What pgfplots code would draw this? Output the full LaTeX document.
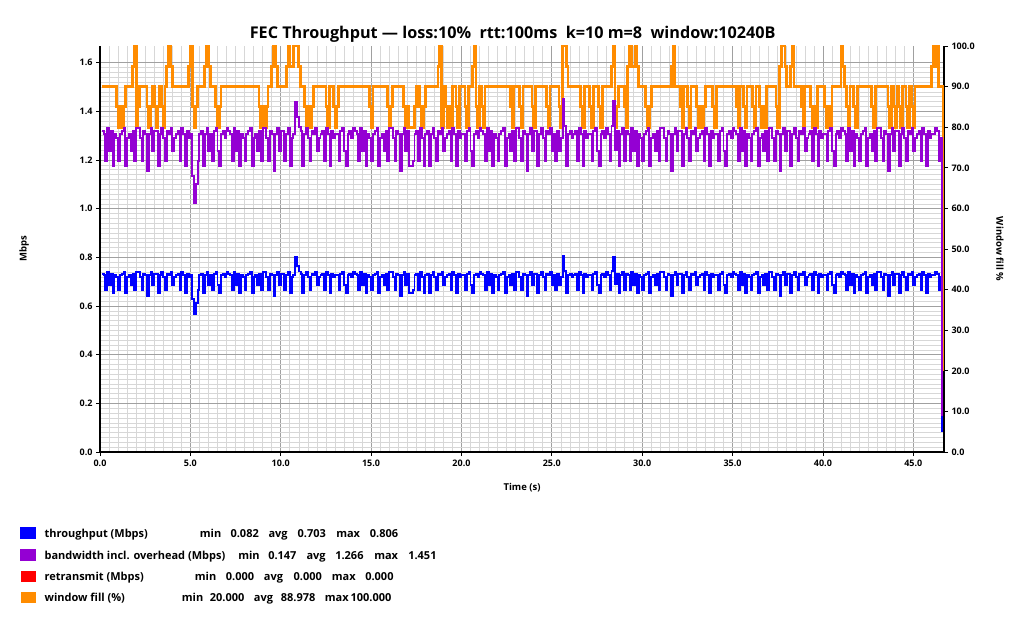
\documentclass[border=0pt]{standalone}
\usepackage{fontspec}
\setmainfont{Open Sans}
\usepackage{pgfplots}
\usepackage{pgfplotstable}
\pgfplotsset{compat=1.18}

\definecolor{tpblue}{RGB}{0,0,255}
\definecolor{bwpurple}{RGB}{148,0,211}
\definecolor{rtred}{RGB}{255,0,0}
\definecolor{wforange}{RGB}{255,140,0}
\definecolor{majgrid}{RGB}{160,160,160}
\definecolor{mingrid}{RGB}{215,215,215}

% throughput and bandwidth incl. overhead, Mbps, every 0.1 s
\pgfplotstableread{
t tp bw
0.1 0.733 1.319
0.2 0.726 1.307
0.3 0.664 1.195
0.4 0.740 1.332
0.5 0.688 1.238
0.6 0.733 1.319
0.7 0.652 1.174
0.8 0.726 1.307
0.9 0.718 1.292
1.0 0.664 1.195
1.1 0.726 1.307
1.2 0.733 1.319
1.3 0.740 1.332
1.4 0.652 1.174
1.5 0.718 1.292
1.6 0.726 1.307
1.7 0.688 1.238
1.8 0.733 1.319
1.9 0.664 1.195
2.0 0.740 1.332
2.1 0.740 1.332
2.2 0.718 1.292
2.3 0.664 1.195
2.4 0.733 1.319
2.5 0.726 1.307
2.6 0.642 1.156
2.7 0.726 1.307
2.8 0.740 1.332
2.9 0.688 1.238
3.0 0.733 1.319
3.1 0.733 1.319
3.2 0.652 1.174
3.3 0.726 1.307
3.4 0.740 1.332
3.5 0.718 1.292
3.6 0.664 1.195
3.7 0.733 1.319
3.8 0.726 1.307
3.9 0.740 1.332
4.0 0.688 1.238
4.1 0.718 1.292
4.2 0.726 1.307
4.3 0.733 1.319
4.4 0.664 1.195
4.5 0.740 1.332
4.6 0.726 1.307
4.7 0.652 1.174
4.8 0.733 1.319
4.9 0.718 1.292
5.0 0.726 1.307
5.1 0.630 1.134
5.2 0.568 1.022
5.3 0.612 1.102
5.4 0.664 1.195
5.5 0.726 1.307
5.6 0.733 1.319
5.7 0.652 1.174
5.8 0.726 1.307
5.9 0.740 1.332
6.0 0.688 1.238
6.1 0.726 1.307
6.2 0.664 1.195
6.3 0.733 1.319
6.4 0.740 1.332
6.5 0.688 1.238
6.6 0.652 1.174
6.7 0.726 1.307
6.8 0.733 1.319
6.9 0.718 1.292
7.0 0.740 1.332
7.1 0.733 1.319
7.2 0.726 1.307
7.3 0.664 1.195
7.4 0.740 1.332
7.5 0.688 1.238
7.6 0.733 1.319
7.7 0.652 1.174
7.8 0.726 1.307
7.9 0.718 1.292
8.0 0.664 1.195
8.1 0.726 1.307
8.2 0.733 1.319
8.3 0.740 1.332
8.4 0.652 1.174
8.5 0.718 1.292
8.6 0.726 1.307
8.7 0.688 1.238
8.8 0.733 1.319
8.9 0.664 1.195
9.0 0.740 1.332
9.1 0.740 1.332
9.2 0.718 1.292
9.3 0.664 1.195
9.4 0.733 1.319
9.5 0.726 1.307
9.6 0.642 1.156
9.7 0.726 1.307
9.8 0.740 1.332
9.9 0.688 1.238
10.0 0.733 1.319
10.1 0.733 1.319
10.2 0.664 1.195
10.3 0.726 1.307
10.4 0.740 1.332
10.5 0.652 1.174
10.6 0.718 1.292
10.7 0.726 1.307
10.8 0.800 1.440
10.9 0.765 1.377
11.0 0.742 1.336
11.1 0.733 1.319
11.2 0.652 1.174
11.3 0.726 1.307
11.4 0.740 1.332
11.5 0.718 1.292
11.6 0.664 1.195
11.7 0.733 1.319
11.8 0.726 1.307
11.9 0.740 1.332
12.0 0.688 1.238
12.1 0.718 1.292
12.2 0.726 1.307
12.3 0.733 1.319
12.4 0.664 1.195
12.5 0.740 1.332
12.6 0.726 1.307
12.7 0.652 1.174
12.8 0.733 1.319
12.9 0.718 1.292
13.0 0.726 1.307
13.1 0.726 1.307
13.2 0.664 1.195
13.3 0.733 1.319
13.4 0.740 1.332
13.5 0.688 1.238
13.6 0.652 1.174
13.7 0.726 1.307
13.8 0.733 1.319
13.9 0.718 1.292
14.0 0.740 1.332
14.1 0.733 1.319
14.2 0.726 1.307
14.3 0.664 1.195
14.4 0.740 1.332
14.5 0.688 1.238
14.6 0.733 1.319
14.7 0.652 1.174
14.8 0.726 1.307
14.9 0.718 1.292
15.0 0.664 1.195
15.1 0.726 1.307
15.2 0.733 1.319
15.3 0.740 1.332
15.4 0.652 1.174
15.5 0.718 1.292
15.6 0.726 1.307
15.7 0.688 1.238
15.8 0.733 1.319
15.9 0.664 1.195
16.0 0.740 1.332
16.1 0.740 1.332
16.2 0.718 1.292
16.3 0.664 1.195
16.4 0.733 1.319
16.5 0.726 1.307
16.6 0.642 1.156
16.7 0.726 1.307
16.8 0.740 1.332
16.9 0.688 1.238
17.0 0.733 1.319
17.1 0.652 1.174
17.2 0.652 1.174
17.3 0.664 1.195
17.4 0.726 1.307
17.5 0.733 1.319
17.6 0.664 1.195
17.7 0.740 1.332
17.8 0.718 1.292
17.9 0.652 1.174
18.0 0.726 1.307
18.1 0.733 1.319
18.2 0.652 1.174
18.3 0.726 1.307
18.4 0.740 1.332
18.5 0.718 1.292
18.6 0.664 1.195
18.7 0.733 1.319
18.8 0.726 1.307
18.9 0.740 1.332
19.0 0.688 1.238
19.1 0.718 1.292
19.2 0.726 1.307
19.3 0.733 1.319
19.4 0.664 1.195
19.5 0.740 1.332
19.6 0.726 1.307
19.7 0.652 1.174
19.8 0.733 1.319
19.9 0.718 1.292
20.0 0.726 1.307
20.1 0.726 1.307
20.2 0.664 1.195
20.3 0.733 1.319
20.4 0.740 1.332
20.5 0.688 1.238
20.6 0.652 1.174
20.7 0.726 1.307
20.8 0.733 1.319
20.9 0.718 1.292
21.0 0.740 1.332
21.1 0.733 1.319
21.2 0.726 1.307
21.3 0.664 1.195
21.4 0.740 1.332
21.5 0.688 1.238
21.6 0.733 1.319
21.7 0.652 1.174
21.8 0.726 1.307
21.9 0.718 1.292
22.0 0.664 1.195
22.1 0.726 1.307
22.2 0.733 1.319
22.3 0.740 1.332
22.4 0.652 1.174
22.5 0.718 1.292
22.6 0.726 1.307
22.7 0.688 1.238
22.8 0.733 1.319
22.9 0.664 1.195
23.0 0.740 1.332
23.1 0.740 1.332
23.2 0.718 1.292
23.3 0.664 1.195
23.4 0.733 1.319
23.5 0.726 1.307
23.6 0.642 1.156
23.7 0.726 1.307
23.8 0.740 1.332
23.9 0.688 1.238
24.0 0.733 1.319
24.1 0.733 1.319
24.2 0.652 1.174
24.3 0.726 1.307
24.4 0.740 1.332
24.5 0.718 1.292
24.6 0.664 1.195
24.7 0.733 1.319
24.8 0.726 1.307
24.9 0.740 1.332
25.0 0.688 1.238
25.1 0.726 1.307
25.2 0.664 1.195
25.3 0.733 1.319
25.4 0.688 1.238
25.5 0.718 1.292
25.6 0.806 1.451
25.7 0.745 1.341
25.8 0.652 1.174
25.9 0.726 1.307
26.0 0.733 1.319
26.1 0.718 1.292
26.2 0.726 1.307
26.3 0.733 1.319
26.4 0.664 1.195
26.5 0.740 1.332
26.6 0.726 1.307
26.7 0.652 1.174
26.8 0.733 1.319
26.9 0.718 1.292
27.0 0.726 1.307
27.1 0.726 1.307
27.2 0.664 1.195
27.3 0.733 1.319
27.4 0.740 1.332
27.5 0.688 1.238
27.6 0.652 1.174
27.7 0.726 1.307
27.8 0.733 1.319
27.9 0.718 1.292
28.0 0.740 1.332
28.1 0.726 1.307
28.2 0.664 1.195
28.3 0.745 1.341
28.4 0.802 1.444
28.5 0.690 1.242
28.6 0.733 1.319
28.7 0.652 1.174
28.8 0.726 1.307
28.9 0.740 1.332
29.0 0.664 1.195
29.1 0.733 1.319
29.2 0.726 1.307
29.3 0.664 1.195
29.4 0.740 1.332
29.5 0.688 1.238
29.6 0.733 1.319
29.7 0.652 1.174
29.8 0.726 1.307
29.9 0.718 1.292
30.0 0.664 1.195
30.1 0.726 1.307
30.2 0.733 1.319
30.3 0.740 1.332
30.4 0.652 1.174
30.5 0.718 1.292
30.6 0.726 1.307
30.7 0.688 1.238
30.8 0.733 1.319
30.9 0.664 1.195
31.0 0.740 1.332
31.1 0.740 1.332
31.2 0.718 1.292
31.3 0.664 1.195
31.4 0.733 1.319
31.5 0.726 1.307
31.6 0.642 1.156
31.7 0.726 1.307
31.8 0.740 1.332
31.9 0.688 1.238
32.0 0.733 1.319
32.1 0.733 1.319
32.2 0.652 1.174
32.3 0.726 1.307
32.4 0.740 1.332
32.5 0.718 1.292
32.6 0.664 1.195
32.7 0.733 1.319
32.8 0.726 1.307
32.9 0.740 1.332
33.0 0.688 1.238
33.1 0.718 1.292
33.2 0.726 1.307
33.3 0.733 1.319
33.4 0.664 1.195
33.5 0.740 1.332
33.6 0.726 1.307
33.7 0.652 1.174
33.8 0.733 1.319
33.9 0.718 1.292
34.0 0.726 1.307
34.1 0.726 1.307
34.2 0.664 1.195
34.3 0.733 1.319
34.4 0.740 1.332
34.5 0.688 1.238
34.6 0.652 1.174
34.7 0.726 1.307
34.8 0.733 1.319
34.9 0.718 1.292
35.0 0.740 1.332
35.1 0.733 1.319
35.2 0.726 1.307
35.3 0.664 1.195
35.4 0.740 1.332
35.5 0.688 1.238
35.6 0.733 1.319
35.7 0.652 1.174
35.8 0.726 1.307
35.9 0.718 1.292
36.0 0.664 1.195
36.1 0.726 1.307
36.2 0.733 1.319
36.3 0.740 1.332
36.4 0.652 1.174
36.5 0.718 1.292
36.6 0.726 1.307
36.7 0.688 1.238
36.8 0.733 1.319
36.9 0.664 1.195
37.0 0.740 1.332
37.1 0.740 1.332
37.2 0.718 1.292
37.3 0.664 1.195
37.4 0.733 1.319
37.5 0.726 1.307
37.6 0.642 1.156
37.7 0.726 1.307
37.8 0.740 1.332
37.9 0.688 1.238
38.0 0.733 1.319
38.1 0.733 1.319
38.2 0.652 1.174
38.3 0.726 1.307
38.4 0.740 1.332
38.5 0.718 1.292
38.6 0.664 1.195
38.7 0.733 1.319
38.8 0.726 1.307
38.9 0.740 1.332
39.0 0.688 1.238
39.1 0.718 1.292
39.2 0.726 1.307
39.3 0.733 1.319
39.4 0.664 1.195
39.5 0.740 1.332
39.6 0.726 1.307
39.7 0.652 1.174
39.8 0.733 1.319
39.9 0.718 1.292
40.0 0.726 1.307
40.1 0.726 1.307
40.2 0.664 1.195
40.3 0.733 1.319
40.4 0.740 1.332
40.5 0.688 1.238
40.6 0.652 1.174
40.7 0.726 1.307
40.8 0.733 1.319
40.9 0.718 1.292
41.0 0.740 1.332
41.1 0.733 1.319
41.2 0.726 1.307
41.3 0.664 1.195
41.4 0.740 1.332
41.5 0.688 1.238
41.6 0.733 1.319
41.7 0.652 1.174
41.8 0.726 1.307
41.9 0.718 1.292
42.0 0.664 1.195
42.1 0.726 1.307
42.2 0.733 1.319
42.3 0.740 1.332
42.4 0.652 1.174
42.5 0.718 1.292
42.6 0.726 1.307
42.7 0.688 1.238
42.8 0.733 1.319
42.9 0.664 1.195
43.0 0.740 1.332
43.1 0.740 1.332
43.2 0.718 1.292
43.3 0.664 1.195
43.4 0.733 1.319
43.5 0.726 1.307
43.6 0.642 1.156
43.7 0.726 1.307
43.8 0.740 1.332
43.9 0.688 1.238
44.0 0.733 1.319
44.1 0.733 1.319
44.2 0.652 1.174
44.3 0.726 1.307
44.4 0.740 1.332
44.5 0.718 1.292
44.6 0.664 1.195
44.7 0.733 1.319
44.8 0.726 1.307
44.9 0.740 1.332
45.0 0.688 1.238
45.1 0.718 1.292
45.2 0.726 1.307
45.3 0.733 1.319
45.4 0.664 1.195
45.5 0.740 1.332
45.6 0.726 1.307
45.7 0.652 1.174
45.8 0.733 1.319
45.9 0.718 1.292
46.0 0.726 1.307
46.1 0.726 1.307
46.2 0.740 1.332
46.3 0.733 1.319
46.4 0.664 1.195
46.5 0.718 1.292
46.6 0.082 0.147
}\rates

% window fill %, change points only (held until the next point)
\pgfplotstableread{
t wf
0.1 90
0.9 85
1.0 80
1.1 85
1.2 80
1.3 85
1.4 90
1.8 95
1.9 100
2.0 80
2.1 85
2.2 90
2.6 85
2.7 80
2.8 85
2.9 90
3.0 85
3.1 80
3.2 85
3.3 90
3.4 85
3.5 80
3.6 90
3.7 95
3.8 100
3.9 95
4.0 90
4.9 95
5.0 100
5.1 85
5.2 80
5.3 85
5.4 90
5.8 95
5.9 100
6.0 95
6.1 90
6.4 85
6.5 80
6.6 85
6.7 90
8.8 85
8.9 80
9.0 85
9.1 80
9.2 85
9.3 90
9.5 95
9.6 100
9.7 95
9.8 90
10.3 95
10.4 100
10.5 95
10.7 100
11.0 95
11.1 90
11.3 85
11.4 80
11.5 85
11.6 80
11.7 85
11.8 90
12.5 85
12.6 80
12.7 90
12.9 85
13.0 80
13.1 85
13.2 90
14.9 85
15.0 80
15.1 90
15.9 85
16.0 80
16.1 85
16.2 90
16.8 85
16.9 80
17.0 85
17.1 80
17.4 85
17.5 90
17.7 85
17.8 80
17.9 85
18.0 90
18.7 95
18.8 100
18.9 80
19.0 90
19.1 85
19.2 80
19.3 85
19.4 80
19.5 90
19.7 85
19.8 80
19.9 90
20.2 85
20.3 80
20.4 90
20.6 95
20.7 100
20.8 85
20.9 80
21.0 90
21.1 85
21.2 80
21.3 90
22.7 85
22.8 80
22.9 90
23.2 85
23.3 80
23.4 90
23.9 85
24.0 80
24.1 90
24.7 85
24.8 80
24.9 90
25.4 85
25.5 80
25.6 100
25.8 95
25.9 90
26.6 85
26.7 80
26.8 90
27.1 85
27.2 80
27.3 90
27.6 85
27.7 80
27.8 90
28.3 95
28.4 100
28.5 80
28.6 85
28.7 90
29.0 85
29.1 80
29.2 95
29.3 100
29.4 95
29.6 100
29.7 95
29.8 90
30.2 85
30.3 80
30.4 85
30.5 90
31.6 95
31.7 100
31.8 90
32.1 85
32.2 80
32.3 90
32.5 85
32.6 80
32.7 90
33.0 85
33.1 80
33.2 85
33.3 80
33.4 85
33.5 90
33.9 85
34.0 80
34.1 90
35.2 85
35.3 80
35.4 90
35.6 85
35.7 80
35.8 90
36.1 85
36.2 80
36.3 90
36.5 85
36.6 80
36.7 85
36.8 80
36.9 90
37.4 85
37.5 80
37.6 95
37.7 100
37.9 95
38.0 90
38.2 95
38.3 100
38.4 90
38.8 85
38.9 80
39.0 90
39.3 85
39.4 80
39.5 85
39.6 80
39.7 90
40.1 85
40.2 80
40.3 85
40.4 80
40.5 90
41.0 100
41.1 95
41.2 90
41.3 85
41.4 80
41.5 90
41.7 85
41.8 80
41.9 90
42.7 85
42.8 80
42.9 90
43.6 85
43.7 80
43.8 90
43.9 85
44.0 80
44.1 90
44.2 85
44.3 80
44.4 90
44.6 85
44.7 80
44.8 90
44.9 85
45.0 80
45.1 90
46.0 95
46.1 100
46.2 95
46.3 100
46.4 90
46.64 20
}\winfill

\newcommand\at[2]{\makebox[0pt][l]{\hspace{#1pt}#2}}

\pgfplotsset{
  base/.style={
    at={(100pt,170pt)}, anchor=south west, scale only axis,
    width=844pt, height=406pt, xmin=0, xmax=46.7,
    /pgf/number format/assume math mode=true,
    tick label style={font=\fontsize{9}{10}\selectfont\bfseries},
    xticklabel style={/pgf/number format/.cd, fixed, fixed zerofill, precision=1},
    yticklabel style={/pgf/number format/.cd, fixed, fixed zerofill, precision=1},
    tick align=outside, major tick length=4pt, minor tick length=0pt,
    tick style={black, line width=0.8pt},
    axis line style={black, line width=1.3pt},
    label style={font=\fontsize{9.5}{11}\selectfont\bfseries},
  },
}

\begin{document}
\begin{tikzpicture}
\path[use as bounding box] (0,0) rectangle (1024pt,622pt);

% left axis with the grid
\begin{axis}[base,
  ymin=0, ymax=1.6687,
  axis x line*=bottom, axis y line*=left,
  xtick={0,5,...,45}, ytick={0,0.2,...,1.6},
  minor x tick num=9, minor y tick num=9,
  grid=both,
  major grid style={majgrid, line width=0.8pt},
  minor grid style={mingrid, line width=0.6pt},
  axis on top,
  every axis title shift=0pt,
  title={FEC Throughput — loss:10\%\ \ rtt:100ms\ \ k=10 m=8\ \ window:10240B},
  title style={at={(axis description cs:0.489,1.019)}, anchor=base,
    font=\fontsize{16.2}{19}\selectfont\bfseries},
  xlabel={Time (s)},
  xlabel style={at={(axis description cs:0.5,-0.094)}, anchor=base},
  ylabel={Mbps},
  ylabel style={at={(axis description cs:-0.09,0.5)}, anchor=center},
]
\addplot[rtred, line width=1pt, forget plot] coordinates {(0.1,0) (46.6,0)};
\end{axis}

% right axis: window fill
\begin{axis}[base,
  ymin=0, ymax=100,
  axis y line*=right, axis x line=none,
  ytick={0,10,...,100},
  ylabel={Window fill \%},
  ylabel style={rotate=180, at={(axis description cs:1.0664,0.5)}, anchor=center},
]
\addplot[wforange, line width=2.8pt, const plot] table[x=t, y=wf] {\winfill};
\end{axis}

% rates on top, with the legend
\begin{axis}[base,
  ymin=0, ymax=1.6687, hide axis,
  legend style={at={(axis description cs:-0.0948,-0.1847)}, anchor=north west,
    draw=none, fill=none, inner sep=0pt, row sep=8pt, column sep=0pt,
    font=\fontsize{11}{13}\selectfont\bfseries,
    nodes={inner sep=0pt, text height=8pt, text depth=3pt}},
  legend cell align=left,
  legend image code/.code={\fill[#1] (0pt,-2.7pt) rectangle (14pt,7.3pt); \path (22pt,0pt);},
]
\addplot[tpblue, line width=1.9pt, const plot] table[x=t, y=tp] {\rates};
\addlegendentry{\at{0}{throughput (Mbps)}\at{155.3}{min}\at{186}{0.082}\at{224}{avg}\at{253}{0.703}\at{291.7}{max}\at{325.3}{0.806}\hspace{370pt}}
\addplot[bwpurple, line width=1.9pt, const plot] table[x=t, y=bw] {\rates};
\addlegendentry{\at{0}{bandwidth incl. overhead (Mbps)}\at{193.7}{min}\at{223.7}{0.147}\at{262}{avg}\at{290.7}{1.266}\at{329.7}{max}\at{363.7}{1.451}\hspace{370pt}}
\addlegendimage{rtred}
\addlegendentry{\at{0}{retransmit (Mbps)}\at{150.3}{min}\at{181.3}{0.000}\at{219.3}{avg}\at{249}{0.000}\at{287.3}{max}\at{320.7}{0.000}\hspace{370pt}}
\addlegendimage{wforange}
\addlegendentry{\at{0}{window fill (\%)}\at{137.3}{min}\at{165.3}{20.000}\at{209.3}{avg}\at{236.3}{88.978}\at{280.3}{max}\at{306}{100.000}\hspace{370pt}}
\end{axis}
\end{tikzpicture}
\end{document}
